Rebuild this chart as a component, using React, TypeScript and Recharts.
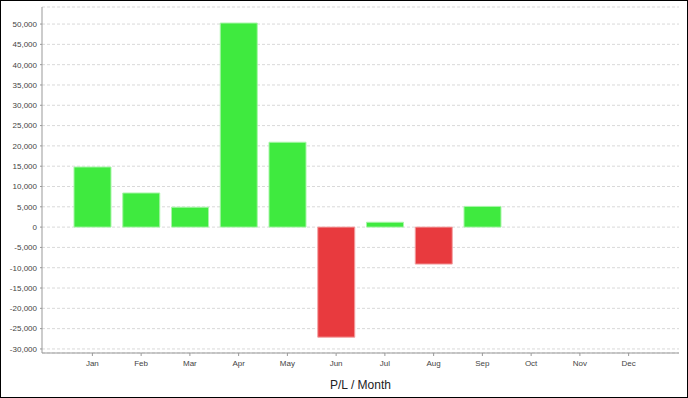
import React from 'react';
import { BarChart, Bar, XAxis, YAxis, CartesianGrid, Cell } from 'recharts';

const months = ['Jan', 'Feb', 'Mar', 'Apr', 'May', 'Jun', 'Jul', 'Aug', 'Sep', 'Oct', 'Nov', 'Dec'];
const profitLoss: (number | null)[] = [14800, 8400, 4900, 50250, 20900, -27100, 1200, -9100, 5100, null, null, null];
const yTicks = [-30000, -25000, -20000, -15000, -10000, -5000, 0, 5000, 10000, 15000, 20000, 25000, 30000, 35000, 40000, 45000, 50000];

const data = months.map((month, i) => ({ month, pl: profitLoss[i] }));

const tickStyle = { fontSize: 8, fill: '#444', fontFamily: '"Liberation Sans", Arial, sans-serif' };

export default function App() {
  return (
    <div
      style={{
        position: 'absolute',
        left: 0,
        top: 0,
        width: 688,
        height: 398,
        border: '1px solid #000',
        boxSizing: 'border-box',
        background: '#fff',
      }}
    >
      <BarChart
        width={686}
        height={396}
        data={data}
        margin={{ top: 6, right: 8, left: 0, bottom: 0 }}
        barCategoryGap={6}
      >
        <CartesianGrid horizontal vertical={false} stroke="#d9d9d9" strokeDasharray="3 2" />
        <XAxis
          dataKey="month"
          height={44}
          padding={{ left: 26, right: 26 }}
          tick={tickStyle}
          tickSize={3}
          tickMargin={4}
          axisLine={{ stroke: '#999' }}
          tickLine={{ stroke: '#999' }}
          label={{
            value: 'P/L / Month',
            position: 'insideBottom',
            offset: 8,
            style: { fontSize: 12, fill: '#222', fontFamily: '"Liberation Sans", Arial, sans-serif' },
          }}
        />
        <XAxis xAxisId="top" orientation="top" dataKey="month" height={0} tick={false} tickLine={false} axisLine={{ stroke: '#bbb' }} />
        <YAxis
          width={41}
          domain={[-31000, 54200]}
          ticks={yTicks}
          interval={0}
          allowDataOverflow
          tick={tickStyle}
          tickSize={2}
          tickMargin={3}
          tickFormatter={(v: number) => v.toLocaleString('en-US')}
          axisLine={{ stroke: '#999' }}
          tickLine={{ stroke: '#999' }}
        />
        <YAxis yAxisId="right" orientation="right" width={0} tick={false} tickLine={false} axisLine={{ stroke: '#bbb' }} />
        <Bar dataKey="pl" isAnimationActive={false} barSize={37}>
          {data.map((d, i) => (
            <Cell
              key={i}
              fill={(d.pl ?? 0) >= 0 ? '#3fea3f' : '#e83a3e'}
              stroke={(d.pl ?? 0) >= 0 ? '#a8f5a8' : '#f2a0a2'}
              strokeWidth={1}
            />
          ))}
        </Bar>
      </BarChart>
    </div>
  );
}
